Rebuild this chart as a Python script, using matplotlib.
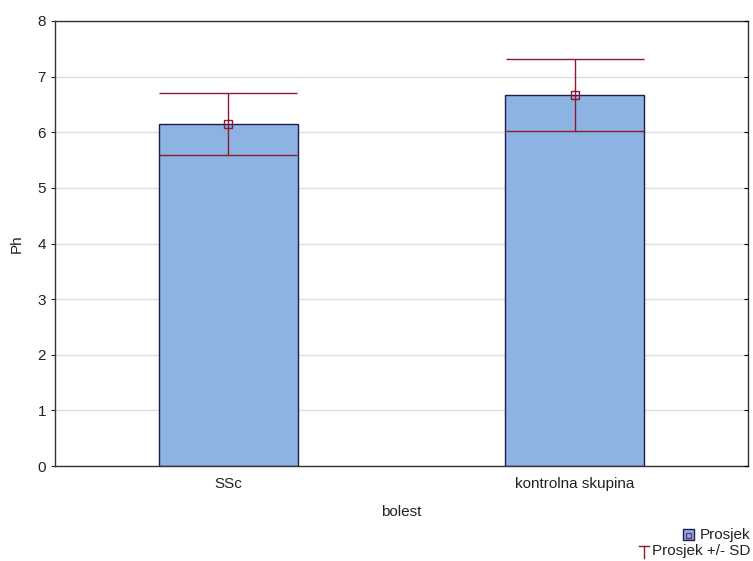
import matplotlib
matplotlib.use("Agg")
import matplotlib.pyplot as plt
from matplotlib.lines import Line2D
from matplotlib.patches import Rectangle

plt.rcParams['font.family'] = ['Liberation Sans', 'DejaVu Sans']

categories = ["SSc", "kontrolna skupina"]
means = [6.15, 6.67]
sds = [0.56, 0.64]
yticks = [0, 1, 2, 3, 4, 5, 6, 7, 8]
legend_labels = ["Prosjek", "Prosjek +/- SD"]

bar_color = "#8DB3E2"
edge_color = "#1F1A4F"
err_color = "#8B1A2E"
fs = 11
W, H = 753, 561

fig = plt.figure(figsize=(W/100, H/100), dpi=100)
ax = fig.add_axes([55/W, 1-466/H, (748-55)/W, (466-21)/H])

x = list(range(len(categories)))
ax.bar(x, means, width=0.4, color=bar_color, edgecolor=edge_color, linewidth=1.0, zorder=2)
ax.errorbar(x, means, yerr=sds, fmt='none', ecolor=err_color, elinewidth=1.0,
            capsize=50, capthick=1.0, zorder=3)
ax.plot(x, means, linestyle='none', marker='s', markersize=5.5, markerfacecolor='none',
        markeredgecolor=err_color, markeredgewidth=1.0, zorder=4)

ax.set_xlim(-0.5, 1.5)
ax.set_ylim(0, 8)
ax.set_yticks(yticks)
ax.set_xticks(x)
ax.set_xticklabels(categories)
ax.yaxis.grid(True, color='#DDDDDD', linewidth=1.0, zorder=0)
ax.set_axisbelow(True)
for s in ax.spines.values():
    s.set_color('#333333')
    s.set_linewidth(1.0)
ax.tick_params(axis='x', direction='in', length=3, labelsize=fs, pad=8, colors='#222222')
ax.tick_params(axis='y', direction='out', length=3, labelsize=fs, colors='#222222')
ax.set_xlabel("bolest", fontsize=fs, labelpad=10, color='#222222')
ax.set_ylabel("Ph", fontsize=fs, labelpad=10, color='#222222')

axr = ax.twinx()
axr.set_ylim(0, 8)
axr.set_yticks(yticks)
axr.tick_params(axis='y', direction='in', length=3, labelright=False)
for s in axr.spines.values():
    s.set_visible(False)

# manual legend (figure pixel coords -> fraction)
def fx(px):
    return px / W

def fy(py):
    return 1 - py / H

fig.text(fx(750), fy(535), legend_labels[0], ha='right', va='center', fontsize=fs, color='#222222')
fig.text(fx(750), fy(551), legend_labels[1], ha='right', va='center', fontsize=fs, color='#222222')
fig.add_artist(Rectangle((fx(683), fy(540)), 11/W, 11/H, facecolor=bar_color,
                         edgecolor=edge_color, linewidth=1.0, transform=fig.transFigure))
fig.add_artist(Rectangle((fx(686), fy(537.5)), 5/W, 5/H, facecolor='none',
                         edgecolor='#5A3A7A', linewidth=1.0, transform=fig.transFigure))
fig.add_artist(Line2D([fx(639), fx(649)], [fy(546), fy(546)], color=err_color, linewidth=1.0,
                      transform=fig.transFigure))
fig.add_artist(Line2D([fx(644), fx(644)], [fy(546), fy(558)], color=err_color, linewidth=1.0,
                      transform=fig.transFigure))

fig.savefig("out.png", dpi=100)
